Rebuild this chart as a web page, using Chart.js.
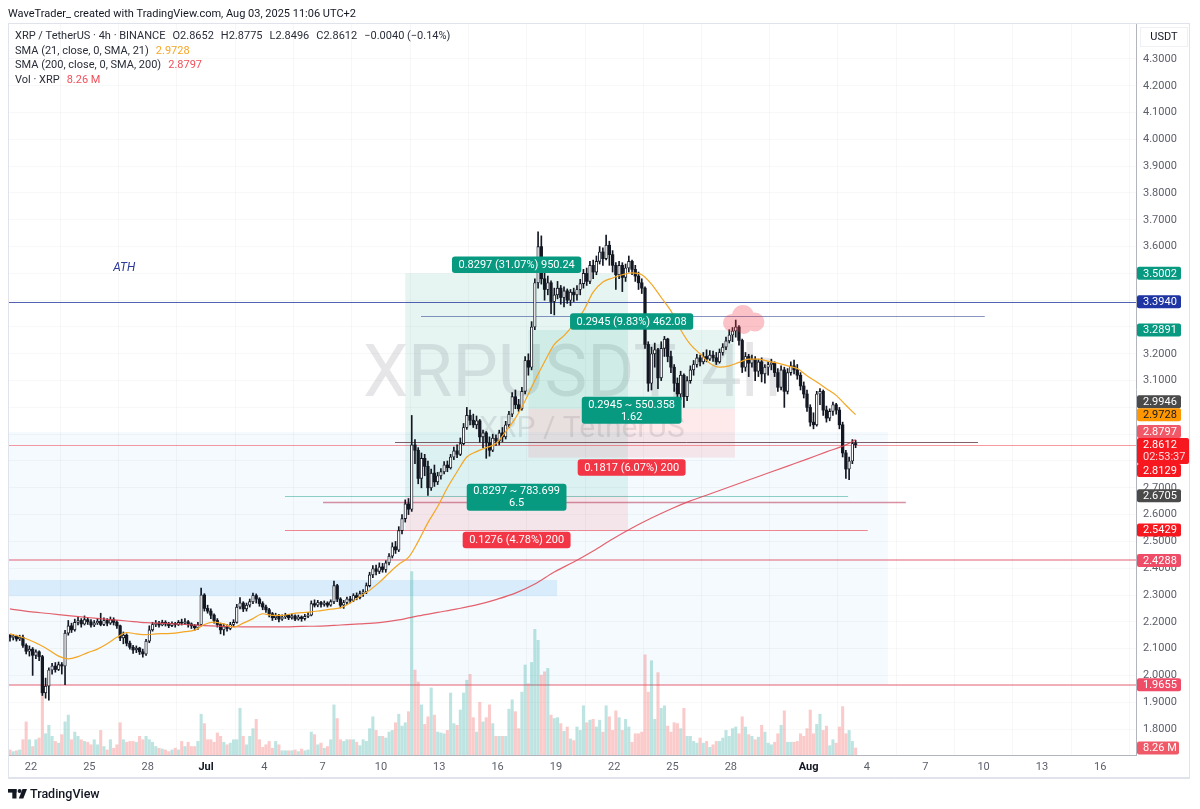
<!DOCTYPE html>
<html><head><meta charset="utf-8">
<script src="https://cdn.jsdelivr.net/npm/chart.js@4.4.1/dist/chart.umd.min.js"></script>
<style>html,body{margin:0;padding:0;background:#fff;}canvas{display:block;}</style>
</head><body>
<canvas id="c" width="1200" height="809" style="width:1200px;height:809px"></canvas>
<script>
const FONT = "Roboto, 'Liberation Sans', Arial, sans-serif";

// ---------- DATA ----------
const firstBar = '2025-06-20T22:00:00Z';   // first visible 4h candle (chart time)
const barHours = 4;
const originDay = '2025-07-01T00:00:00Z';
const firstOpen = 2.150;

const closes = [
2.142,2.146,2.136,2.142,2.112,2.090,2.098,2.075,2.088,2.070,
1.935,1.960,2.020,2.035,2.022,2.040,2.035,2.158,2.185,2.170,
2.198,2.205,2.192,2.208,2.200,2.188,2.196,2.202,2.190,2.205,
2.195,2.208,2.198,2.185,2.140,2.150,2.120,2.105,2.095,2.102,
2.088,2.080,2.128,2.170,2.190,2.195,2.188,2.198,2.192,2.186,
2.194,2.190,2.198,2.195,2.200,2.192,2.185,2.178,2.190,2.300,
2.250,2.240,2.225,2.205,2.190,2.170,2.182,2.175,2.190,2.198,
2.255,2.270,2.248,2.262,2.275,2.298,2.285,2.268,2.255,2.245,
2.230,2.215,2.222,2.210,2.218,2.225,2.215,2.222,2.210,2.218,
2.212,2.220,2.225,2.268,2.262,2.272,2.265,2.270,2.262,2.275,
2.335,2.285,2.262,2.272,2.285,2.280,2.298,2.290,2.305,2.312,
2.335,2.375,2.398,2.388,2.405,2.395,2.420,2.445,2.480,2.468,
2.540,2.585,2.640,2.620,2.860,2.840,2.735,2.810,2.780,2.700,
2.755,2.722,2.745,2.760,2.785,2.775,2.815,2.838,2.825,2.865,
2.925,2.970,2.952,2.935,2.950,2.890,2.905,2.868,2.840,2.885,
2.875,2.905,2.890,2.935,2.975,3.040,3.010,2.995,3.060,3.175,
3.150,3.300,3.465,3.600,3.480,3.440,3.465,3.395,3.420,3.445,
3.410,3.435,3.400,3.430,3.420,3.440,3.462,3.500,3.470,3.530,
3.505,3.545,3.580,3.555,3.605,3.570,3.530,3.495,3.530,3.485,
3.520,3.545,3.515,3.490,3.465,3.445,3.235,3.090,3.200,3.215,
3.110,3.220,3.255,3.190,3.150,3.090,3.050,3.120,3.040,3.100,
3.140,3.160,3.185,3.170,3.190,3.180,3.195,3.185,3.170,3.205,
3.225,3.248,3.270,3.285,3.300,3.250,3.150,3.190,3.165,3.180,
3.135,3.170,3.125,3.150,3.160,3.165,3.130,3.075,3.140,3.060,
3.130,3.155,3.140,3.120,3.080,3.050,3.000,2.945,2.935,3.050,
3.060,2.990,2.960,2.985,3.010,2.990,2.935,2.830,2.770,2.800,
2.8652,2.8612];

const highs = [
2.152,2.152,2.150,2.150,2.150,2.118,2.110,2.104,2.095,2.092,
2.075,1.990,2.028,2.045,2.048,2.050,2.048,2.168,2.205,2.195,
2.210,2.218,2.212,2.222,2.215,2.208,2.205,2.212,2.232,2.215,
2.212,2.218,2.215,2.205,2.188,2.162,2.155,2.128,2.112,2.110,
2.105,2.098,2.135,2.185,2.198,2.205,2.202,2.206,2.204,2.198,
2.200,2.198,2.205,2.210,2.212,2.205,2.196,2.190,2.198,2.326,
2.305,2.262,2.248,2.230,2.212,2.195,2.192,2.190,2.198,2.208,
2.265,2.290,2.275,2.270,2.285,2.307,2.304,2.290,2.275,2.262,
2.250,2.235,2.232,2.228,2.226,2.232,2.228,2.230,2.226,2.225,
2.222,2.228,2.235,2.278,2.282,2.280,2.276,2.278,2.275,2.282,
2.352,2.340,2.290,2.280,2.292,2.295,2.305,2.308,2.315,2.320,
2.345,2.385,2.410,2.412,2.420,2.418,2.428,2.455,2.495,2.500,
2.555,2.600,2.655,2.660,2.970,2.880,2.850,2.830,2.825,2.800,
2.770,2.785,2.758,2.772,2.798,2.800,2.825,2.852,2.860,2.886,
2.940,3.000,2.990,2.975,2.968,2.955,2.915,2.910,2.890,2.900,
2.898,2.915,2.925,2.948,2.985,3.055,3.065,3.030,3.075,3.190,
3.200,3.320,3.480,3.655,3.640,3.525,3.490,3.472,3.445,3.470,
3.455,3.450,3.442,3.440,3.445,3.455,3.478,3.515,3.520,3.545,
3.550,3.565,3.600,3.595,3.643,3.620,3.585,3.540,3.545,3.540,
3.535,3.565,3.550,3.530,3.505,3.480,3.450,3.245,3.225,3.240,
3.220,3.245,3.265,3.258,3.210,3.160,3.110,3.135,3.125,3.115,
3.155,3.175,3.198,3.195,3.205,3.215,3.212,3.210,3.205,3.218,
3.238,3.262,3.290,3.298,3.326,3.305,3.255,3.205,3.198,3.195,
3.190,3.180,3.185,3.160,3.170,3.180,3.170,3.145,3.155,3.150,
3.145,3.170,3.177,3.160,3.130,3.095,3.065,3.010,2.980,3.060,
3.070,3.065,3.005,2.995,3.020,3.015,3.000,2.945,2.840,2.815,
2.880,2.8775];

const lows = [
2.128,2.132,2.128,2.130,2.104,2.080,2.072,2.000,2.062,2.055,
1.925,1.915,1.908,2.005,2.012,2.018,2.005,1.9655,2.150,2.160,
2.165,2.188,2.180,2.188,2.190,2.180,2.182,2.190,2.185,2.186,
2.185,2.190,2.188,2.175,2.130,2.118,2.110,2.098,2.082,2.085,
2.078,2.068,2.075,2.122,2.165,2.182,2.180,2.185,2.184,2.178,
2.182,2.180,2.186,2.188,2.190,2.180,2.175,2.168,2.172,2.185,
2.240,2.232,2.212,2.195,2.180,2.155,2.150,2.165,2.170,2.182,
2.195,2.248,2.238,2.240,2.255,2.268,2.270,2.258,2.245,2.235,
2.218,2.205,2.208,2.200,2.205,2.212,2.208,2.210,2.204,2.206,
2.202,2.206,2.215,2.222,2.255,2.256,2.255,2.258,2.255,2.258,
2.268,2.275,2.252,2.250,2.265,2.270,2.275,2.282,2.285,2.295,
2.305,2.330,2.365,2.375,2.380,2.385,2.385,2.412,2.438,2.455,
2.462,2.528,2.572,2.600,2.612,2.790,2.715,2.700,2.745,2.672,
2.690,2.705,2.712,2.732,2.752,2.760,2.770,2.805,2.812,2.820,
2.860,2.918,2.935,2.925,2.920,2.870,2.850,2.810,2.818,2.835,
2.858,2.860,2.872,2.882,2.925,2.965,2.995,2.985,2.990,3.050,
3.120,3.140,3.290,3.445,3.460,3.400,3.420,3.350,3.345,3.405,
3.385,3.375,3.388,3.380,3.395,3.400,3.420,3.445,3.455,3.462,
3.480,3.495,3.535,3.530,3.550,3.530,3.505,3.440,3.480,3.432,
3.470,3.505,3.495,3.470,3.440,3.425,3.220,3.060,3.065,3.150,
3.070,3.100,3.190,3.170,3.130,3.060,3.020,3.030,3.000,3.025,
3.090,3.120,3.150,3.155,3.162,3.170,3.175,3.172,3.160,3.165,
3.195,3.215,3.240,3.245,3.262,3.232,3.130,3.135,3.115,3.150,
3.100,3.115,3.095,3.090,3.120,3.140,3.115,3.060,3.065,3.000,
3.050,3.120,3.125,3.105,3.065,3.035,2.985,2.930,2.920,2.930,
3.010,2.970,2.945,2.950,2.970,2.975,2.920,2.815,2.735,2.730,
2.790,2.8496];

// volume, millions of XRP per 4h candle
const volumes = [
6,4,5,6,18,39,18,10,18,20,
82,25,35,22,16,14,24,39,47,18,
27,22,18,16,15,12,18,12,29,10,
6,18,8,12,38,18,15,16,16,15,
22,18,22,18,15,10,8,7,6,4,
6,8,6,16,10,15,10,10,16,48,
37,18,18,15,26,22,15,12,14,18,
18,55,22,12,22,31,42,18,9,12,
16,8,16,12,5,5,5,5,6,4,
7,5,6,27,24,12,14,8,10,18,
59,43,18,16,18,18,18,15,11,18,
16,31,45,29,22,22,20,27,29,38,
48,34,38,51,216,100,86,59,36,45,
79,47,27,26,25,29,73,37,35,53,
73,88,95,44,27,62,39,44,59,37,
22,22,22,22,54,65,51,31,74,106,
84,109,148,135,94,98,102,47,43,44,
37,28,33,19,17,33,29,58,38,41,
42,33,41,27,58,45,29,52,44,29,
42,33,15,25,25,27,118,74,111,42,
97,55,58,34,27,38,37,31,55,22,
22,16,14,20,14,16,9,12,16,16,
20,29,22,31,33,25,45,33,24,22,
18,21,35,27,14,12,15,25,35,52,
15,15,15,16,25,22,31,53,25,36,
48,29,34,11,18,14,33,57,25,29,
16,8.26];

// SMA 21 read every 3rd candle (candle 0,3,6,...,261)
const sma21Step = 3;
const sma21 = [
2.155,2.145,2.132,2.115,2.095,2.072,2.062,2.070,2.085,2.098,
2.118,2.142,2.160,2.155,2.152,2.155,2.156,2.158,2.163,2.169,
2.190,2.199,2.192,2.180,2.195,2.212,2.230,2.224,2.224,2.230,
2.234,2.237,2.242,2.247,2.252,2.270,2.295,2.318,2.347,2.382,
2.415,2.440,2.500,2.570,2.630,2.700,2.760,2.815,2.835,2.850,
2.865,2.910,2.960,3.025,3.100,3.170,3.235,3.268,3.310,3.360,
3.430,3.468,3.483,3.495,3.502,3.495,3.460,3.410,3.360,3.290,
3.235,3.200,3.165,3.150,3.155,3.168,3.180,3.180,3.172,3.165,
3.155,3.145,3.118,3.095,3.070,3.045,3.008,2.9728];

// SMA 200 read every 6th candle (candle 0,6,...,258) plus the last candle
const sma200Step = 6;
const sma200 = [
2.248,2.238,2.231,2.223,2.216,2.209,2.203,2.197,2.194,2.190,
2.186,2.183,2.181,2.181,2.181,2.183,2.184,2.188,2.192,2.197,
2.207,2.222,2.235,2.248,2.263,2.283,2.307,2.341,2.386,2.423,
2.464,2.509,2.550,2.587,2.621,2.651,2.677,2.703,2.729,2.755,
2.781,2.807,2.834,2.860,2.8797];

const tickDates = ['2025-06-22','2025-06-25','2025-06-28','2025-07-01','2025-07-04','2025-07-07','2025-07-10','2025-07-13','2025-07-16','2025-07-19','2025-07-22','2025-07-25','2025-07-28','2025-08-01','2025-08-04','2025-08-07','2025-08-10','2025-08-13','2025-08-16'];
const tickLabels = ['22','25','28','Jul','4','7','10','13','16','19','22','25','28','Aug','4','7','10','13','16'];
const priceTicks = [1.8,1.9,2.0,2.1,2.2,2.3,2.4,2.5,2.6,2.7,2.8,2.9,3.0,3.1,3.2,3.3,3.4,3.5,3.6,3.7,3.8,3.9,4.0,4.1,4.2,4.3];

// drawings (time / price)
const zones = [
  {from:null, to:'2025-08-05T02:00:00Z', top:2.908, bottom:1.9655, kind:'range'},
  {from:null, to:'2025-07-19T01:30:00Z', top:2.356, bottom:2.296, kind:'band'}
];
const positions = [
  {from:'2025-07-11T06:00:00Z', to:'2025-07-22T17:00:00Z', entry:2.6705, target:3.5002, stop:2.5429,
   targetText:'0.8297 (31.07%) 950.24', midText:['0.8297 ~ 783.699','6.5'], stopText:'0.1276 (4.78%) 200'},
  {from:'2025-07-17T14:00:00Z', to:'2025-07-28T05:00:00Z', entry:2.9946, target:3.2891, stop:2.8129,
   targetText:'0.2945 (9.83%) 462.08', midText:['0.2945 ~ 550.358','1.62'], stopText:'0.1817 (6.07%) 200'}
];
const hLines = [
  {price:3.3940, from:null, to:null, kind:'navy'},
  {price:3.341, from:'2025-07-12T01:30:00Z', to:'2025-08-10T01:30:00Z', kind:'blue'},
  {price:2.871, from:'2025-07-10T17:20:00Z', to:'2025-08-09T17:00:00Z', kind:'dark'},
  {price:2.6705, from:'2025-07-05T01:30:00Z', to:'2025-08-03T00:45:00Z', kind:'green'},
  {price:2.647, from:'2025-07-07T00:30:00Z', to:'2025-08-06T00:00:00Z', kind:'magenta'},
  {price:2.5429, from:'2025-07-05T01:30:00Z', to:'2025-08-04T01:00:00Z', kind:'red'},
  {price:2.4288, from:null, to:null, kind:'pink'},
  {price:1.9655, from:null, to:null, kind:'pink'}
];
const cloud = {at:'2025-07-28T16:10:00Z', price:3.330};
const athNote = {at:'2025-06-26T19:00:00Z', price:3.52, text:'ATH'};
const axisTags = [
  {value:3.5002, kind:'teal'},{value:3.3940, kind:'navy'},{value:3.2891, kind:'teal'},
  {value:2.9946, kind:'gray'},{value:2.9728, kind:'orange'},{value:2.8797, kind:'sma'},
  {value:2.8129, kind:'red'},{value:2.6705, kind:'gray'},{value:2.5429, kind:'red'},
  {value:2.4288, kind:'pink'},{value:1.9655, kind:'pink'}
];
const countdown = '02:53:37';
const viewFrom = '2025-06-20T19:34:00Z', viewTo = '2025-08-17T20:10:00Z';
const priceMin = 1.703, priceMax = 4.4343, volMax = 862;

// ---------- BUILD ----------
const DAY = 86400000;
const dayOf = s => (Date.parse(s.length === 10 ? s + 'T00:00:00Z' : s) - Date.parse(originDay)) / DAY;
const barX = i => dayOf(firstBar) + i * barHours / 24;
const opens = [firstOpen, ...closes.slice(0, -1)];
const n = closes.length;
const up = closes.map((c, i) => c >= opens[i]);
const INK = '#131722';

const bodies = closes.map((c, i) => ({x: barX(i), y: [opens[i], c]}));
const wicks = closes.map((c, i) => ({x: barX(i), y: [lows[i], highs[i]]}));
const vols = volumes.map((v, i) => ({x: barX(i), y: v}));
const sma21Pts = sma21.map((v, k) => ({x: barX(Math.min(k * sma21Step, n - 1)), y: v}));
const sma200Pts = sma200.map((v, k) => ({x: barX(Math.min(k * sma200Step, n - 1)), y: v}));
const tickDays = tickDates.map(dayOf);
const lastClose = closes[n - 1], lastOpen = opens[n - 1];
const hideNear = axisTags.map(t => t.value).concat([lastClose]);

function rr(ctx, x, y, w, h, r) {
  ctx.beginPath(); ctx.moveTo(x + r, y);
  ctx.arcTo(x + w, y, x + w, y + h, r); ctx.arcTo(x + w, y + h, x, y + h, r);
  ctx.arcTo(x, y + h, x, y, r); ctx.arcTo(x, y, x + w, y, r); ctx.closePath();
}
function boxText(ctx, lines, cx, cy, bg) {
  ctx.font = '11px ' + FONT;
  const w = Math.max(...lines.map(t => ctx.measureText(t).width)) + 13;
  const lh = 12, h = lines.length * lh + (lines.length > 1 ? 3 : 4.5);
  rr(ctx, cx - w / 2, cy - h / 2, w, h, 3); ctx.fillStyle = bg; ctx.fill();
  ctx.fillStyle = '#fff'; ctx.textAlign = 'center'; ctx.textBaseline = 'middle';
  lines.forEach((t, k) => ctx.fillText(t, cx, cy - h / 2 + (h - lines.length * lh) / 2 + lh * (k + 0.5) + 0.5));
  return h;
}

const zoneStyle = {range:'rgba(33,150,243,0.05)', band:'rgba(33,150,243,0.13)'};
const lineStyle = {
  navy:['rgba(41,57,160,0.8)',1], blue:['rgba(70,90,160,0.65)',1], dark:['rgba(100,55,65,0.8)',1],
  green:['rgba(8,153,129,0.45)',1], magenta:['rgba(190,70,100,0.6)',1.5], red:['rgba(235,70,85,0.65)',1],
  pink:['rgba(228,95,115,0.5)',2], last:['rgba(242,54,69,0.5)',1]
};
const tagStyle = {teal:['#089981','#fff'], navy:['#1f35a3','#fff'], gray:['#4a4a4a','#fff'], orange:['#ff9800','#131722'],
  sma:['#f05a68','#fff'], red:['#f7171f','#fff'], pink:['#ef4d67','#fff']};

const overlay = {
  id: 'overlay',
  beforeDatasetsDraw(chart) {
    const {ctx, chartArea: a, scales: {x, y}} = chart;
    const X = s => x.getPixelForValue(dayOf(s));
    ctx.save();
    ctx.beginPath(); ctx.rect(a.left, a.top, a.right - a.left, a.bottom - a.top); ctx.clip();
    zones.forEach(z => {
      const x0 = z.from ? X(z.from) : a.left, x1 = z.to ? X(z.to) : a.right;
      const y0 = y.getPixelForValue(z.top), y1 = y.getPixelForValue(z.bottom);
      ctx.fillStyle = zoneStyle[z.kind]; ctx.fillRect(x0, y0, x1 - x0, y1 - y0);
    });
    // watermark
    const cx = (a.left + a.right) / 2, cy = (a.top + a.bottom) / 2;
    ctx.fillStyle = 'rgba(106,109,120,0.17)'; ctx.textAlign = 'center'; ctx.textBaseline = 'alphabetic';
    ctx.font = '72px ' + FONT; ctx.fillText('XRPUSDT, 4h', cx, cy + 7);
    ctx.font = '30px ' + FONT; ctx.fillText('XRP / TetherUS', cx + 10, cy + 48);
    positions.forEach(p => {
      const x0 = X(p.from), x1 = X(p.to);
      const yt = y.getPixelForValue(p.target), ye = y.getPixelForValue(p.entry), ys = y.getPixelForValue(p.stop);
      ctx.fillStyle = 'rgba(8,153,129,0.10)'; ctx.fillRect(x0, yt, x1 - x0, ye - yt);
      ctx.fillStyle = 'rgba(242,54,69,0.11)'; ctx.fillRect(x0, ye, x1 - x0, ys - ye);
    });
    const drawLine = (price, from, to, kind) => {
      const [col, w] = lineStyle[kind];
      const yy = Math.round(y.getPixelForValue(price)) + (w % 2 ? 0.5 : 0);
      ctx.strokeStyle = col; ctx.lineWidth = w; ctx.beginPath();
      ctx.moveTo(from ? X(from) : a.left, yy); ctx.lineTo(to ? X(to) : a.right, yy); ctx.stroke();
    };
    hLines.forEach(l => drawLine(l.price, l.from, l.to, l.kind));
    drawLine(lastClose, null, null, 'last');
    ctx.restore();
  },
  afterDatasetsDraw(chart) {
    const {ctx, chartArea: a, scales: {x, y}} = chart;
    const X = s => x.getPixelForValue(dayOf(s));
    ctx.save();
    // cloud
    const ccx = X(cloud.at), ccy = y.getPixelForValue(cloud.price);
    ctx.beginPath();
    [[-12,4,9],[-1,-3,11],[11,3,9.5],[0,7,8]].forEach(([dx, dy, r]) => {
      ctx.moveTo(ccx + dx + r, ccy + dy); ctx.arc(ccx + dx, ccy + dy, r, 0, Math.PI * 2);
    });
    ctx.fillStyle = 'rgba(242,54,69,0.30)'; ctx.fill('nonzero');
    // position labels
    positions.forEach(p => {
      const cx = (X(p.from) + X(p.to)) / 2;
      const yt = y.getPixelForValue(p.target), ye = y.getPixelForValue(p.entry), ys = y.getPixelForValue(p.stop);
      boxText(ctx, [p.targetText], cx, yt - 8.5, '#089981');
      boxText(ctx, p.midText, cx, ye + 1.5, '#089981');
      boxText(ctx, [p.stopText], cx, ys + 10, '#f23645');
    });
    // ATH
    ctx.font = 'italic 12px ' + FONT; ctx.fillStyle = '#2a3a9c'; ctx.textAlign = 'center'; ctx.textBaseline = 'middle';
    ctx.fillText(athNote.text, X(athNote.at), y.getPixelForValue(athNote.price));
    ctx.restore();
  },
  afterDraw(chart) {
    const {ctx, chartArea: a, scales: {y, yv}} = chart;
    ctx.save();
    // frame
    ctx.strokeStyle = '#e0e3eb'; ctx.lineWidth = 1;
    ctx.strokeRect(a.left + 0.5, a.top + 0.5, 1190 - a.left - 1, 778 - a.top - 1);
    ctx.beginPath(); ctx.moveTo(a.left, 778.5); ctx.lineTo(1190, 778.5); ctx.stroke();
    // right axis tags
    const left = a.right + 1, H = 13;
    ctx.font = '11px ' + FONT; ctx.textBaseline = 'middle'; ctx.textAlign = 'left';
    const cy = y.getPixelForValue(lastClose), curTop = cy - 6.5, curBot = cy + 19.5;
    const tags = axisTags.map(t => ({...t, py: y.getPixelForValue(t.value)}));
    let lim = curTop;
    tags.filter(t => t.value > lastClose).sort((p, q) => q.py - p.py).forEach(t => {
      if (t.py + H / 2 > lim) t.py = lim - H / 2; lim = t.py - H / 2; });
    lim = curBot;
    tags.filter(t => t.value < lastClose).sort((p, q) => p.py - q.py).forEach(t => {
      if (t.py - H / 2 < lim) t.py = lim + H / 2; lim = t.py + H / 2; });
    tags.forEach(t => {
      const [bg, fg] = tagStyle[t.kind];
      rr(ctx, left, t.py - H / 2, 44, H, 2); ctx.fillStyle = bg; ctx.fill();
      ctx.fillStyle = fg; ctx.fillText(t.value.toFixed(4), left + 6, t.py + 0.5);
    });
    rr(ctx, left, curTop, 52, 26, 2); ctx.fillStyle = '#f7171f'; ctx.fill();
    ctx.fillStyle = '#fff'; ctx.fillText(lastClose.toFixed(4), left + 6, cy + 0.5);
    ctx.fillStyle = 'rgba(255,255,255,0.85)'; ctx.fillText(countdown, left + 6, cy + 13);
    const vy = yv.getPixelForValue(volumes[n - 1]);
    const vt = volumes[n - 1].toFixed(2) + ' M';
    rr(ctx, left, vy - H / 2, 42, H, 2); ctx.fillStyle = '#f05a68'; ctx.fill();
    ctx.fillStyle = '#fff'; ctx.fillText(vt, left + 6, vy + 0.5);
    // USDT
    ctx.strokeStyle = '#eef0f4'; ctx.strokeRect(1140.5, 27.5, 47, 19);
    ctx.fillStyle = INK; ctx.textAlign = 'center'; ctx.fillText('USDT', 1164, 37.5);
    // header
    ctx.textAlign = 'left'; ctx.font = '11px ' + FONT; ctx.fillStyle = INK;
    ctx.fillText('WaveTrader_ created with TradingView.com, Aug 03, 2025 11:06 UTC+2', 8, 14);
    // legend
    const seq = (parts, yy) => {
      let xx = 15;
      parts.forEach(([t, c]) => { ctx.fillStyle = c; ctx.fillText(t, xx, yy); xx += ctx.measureText(t).width + 7; });
    };
    const chg = lastClose - lastOpen, pct = chg / lastOpen * 100;
    const legendInk = '#2a2e39';
    seq([['XRP / TetherUS \u00b7 4h \u00b7 BINANCE', legendInk], ['O' + lastOpen.toFixed(4), legendInk], ['H' + highs[n-1].toFixed(4), legendInk],
         ['L' + lows[n-1].toFixed(4), legendInk], ['C' + lastClose.toFixed(4), legendInk],
         [(chg < 0 ? '\u2212' : '+') + Math.abs(chg).toFixed(4) + ' (' + (pct < 0 ? '\u2212' : '+') + Math.abs(pct).toFixed(2) + '%)', legendInk]], 36.5);
    seq([['SMA (21, close, 0, SMA, 21)', legendInk], [sma21[sma21.length - 1].toFixed(4), '#f5a623']], 51);
    seq([['SMA (200, close, 0, SMA, 200)', legendInk], [sma200[sma200.length - 1].toFixed(4), '#f0505a']], 65.5);
    seq([['Vol \u00b7 XRP', legendInk], [vt, '#f0505a']], 80);
    // TradingView logo
    ctx.fillStyle = INK;
    ctx.fillRect(8, 789, 8.5, 3.6); ctx.fillRect(12.3, 789, 4.2, 9.5);
    ctx.beginPath(); ctx.arc(19.6, 791, 2, 0, Math.PI * 2); ctx.fill();
    ctx.beginPath(); ctx.moveTo(22.5, 789); ctx.lineTo(27, 789); ctx.lineTo(23.3, 798.5); ctx.lineTo(18.8, 798.5); ctx.closePath(); ctx.fill();
    ctx.font = '500 12.5px ' + FONT; ctx.fillText('TradingView', 30, 794.5);
    ctx.restore();
  }
};

Chart.defaults.font.family = FONT;
new Chart(document.getElementById('c'), {
  type: 'bar',
  data: {
    datasets: [
      {label:'Vol', data: vols, yAxisID:'yv', order:10, grouped:false, barThickness:2.4,
       backgroundColor: up.map(u => u ? 'rgba(38,166,154,0.30)' : 'rgba(239,83,80,0.30)')},
      {label:'wick', data: wicks, yAxisID:'y', order:8, grouped:false, barThickness:1, backgroundColor: INK},
      {label:'body', data: bodies, yAxisID:'y', order:7, grouped:false, barThickness:2.6, minBarLength:1,
       borderSkipped:false, backgroundColor: up.map(u => u ? '#ffffff' : INK), borderColor: INK,
       borderWidth: up.map(u => u ? 0.9 : 0)},
      {type:'line', label:'SMA200', data: sma200Pts, yAxisID:'y', order:3, borderColor:'rgba(225,70,85,0.85)',
       borderWidth:1.2, pointRadius:0, cubicInterpolationMode:'monotone'},
      {type:'line', label:'SMA21', data: sma21Pts, yAxisID:'y', order:2, borderColor:'#f5a623',
       borderWidth:1.2, pointRadius:0, cubicInterpolationMode:'monotone'}
    ]
  },
  options: {
    responsive:false, animation:false, events:[],
    layout:{padding:{left:8, right:10, top:23, bottom:31}},
    plugins:{legend:{display:false}, tooltip:{enabled:false}},
    scales:{
      x:{type:'linear', min:dayOf(viewFrom), max:dayOf(viewTo), offset:false,
        grid:{color:'rgba(42,46,57,0.04)', drawTicks:false},
        border:{color:'#b2b5be'},
        afterBuildTicks: s => { s.ticks = tickDays.map(v => ({value:v})); },
        afterFit: s => { s.height = 23; },
        ticks:{autoSkip:false, maxRotation:0, padding:6,
          callback:(v, i) => tickLabels[i],
          color: c => (tickLabels[c.index] === 'Jul' || tickLabels[c.index] === 'Aug') ? INK : '#5d606b',
          font: c => ({family:FONT, size:11, weight:(tickLabels[c.index] === 'Jul' || tickLabels[c.index] === 'Aug') ? 'bold' : 'normal'})}},
      y:{type:'linear', position:'right', min:priceMin, max:priceMax,
        grid:{color:'rgba(42,46,57,0.035)', drawTicks:false},
        border:{color:'#b2b5be'},
        afterBuildTicks: s => { s.ticks = priceTicks.map(v => ({value:v})); },
        afterFit: s => { s.width = 54; },
        ticks:{padding:7, color:'#5d606b', font:{size:11, family:FONT},
          callback: v => hideNear.some(h => Math.abs(h - v) < 0.025) ? '' : Number(v).toFixed(4)}},
      yv:{type:'linear', display:false, min:0, max:volMax}
    }
  },
  plugins:[overlay]
});
</script>
</body></html>
